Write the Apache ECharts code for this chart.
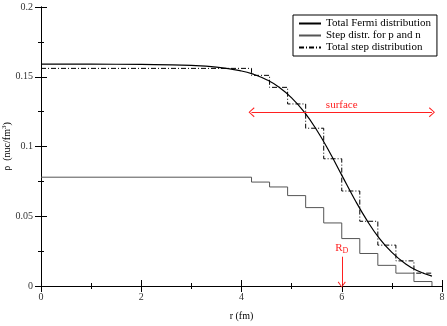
<!DOCTYPE html>
<html><head><meta charset="utf-8">
<script src="https://cdn.jsdelivr.net/npm/echarts@6/dist/echarts.min.js"></script>
<style>html,body{margin:0;padding:0;background:#fff}#c{width:447px;height:326px}</style>
</head><body><div id="c"></div>
<script>
// Fermi distribution
const fermiR   = [0, 1, 2, 3, 3.5, 4, 4.25, 4.5, 4.75, 5, 5.25, 5.5, 5.75, 6, 6.25, 6.5, 6.75, 7, 7.25, 7.5, 7.8];
const fermiRho = [0.159, 0.159, 0.1588, 0.1581, 0.1569, 0.1541, 0.1516, 0.1479, 0.1425, 0.1349, 0.1248, 0.1118, 0.0964, 0.0795, 0.0626, 0.0472, 0.0342, 0.0241, 0.0165, 0.0111, 0.0071];
// step bins
const binEdges  = [0, 4.2, 4.56, 4.92, 5.28, 5.64, 6.0, 6.36, 6.72, 7.08, 7.44, 7.8];
const totalStep = [0.156, 0.151, 0.1424, 0.1305, 0.1131, 0.0912, 0.0681, 0.0464, 0.0293, 0.018, 0.0092];
const pnStep    = [0.078, 0.0745, 0.071, 0.0648, 0.0562, 0.0452, 0.034, 0.0233, 0.0148, 0.0092, 0.0032];
const surfaceRange = [4.2, 7.8];
const surfaceRho = 0.1245;
const rD = 6.0;
const rDArrow = [0.021, 0.001];

const serif = 'Liberation Serif';
const openArrow = 'path://M5,0 L10,9 L9,10 L5,2.2 L1,10 L0,9 Z';
const fermiData = fermiR.map((r, i) => [r, fermiRho[i]]);
function stepData(vals, endVal) {
  const d = vals.map((v, i) => [binEdges[i], v]);
  d.push([binEdges[binEdges.length - 1], endVal]);
  return d;
}

const chart = echarts.init(document.getElementById('c'), null, {renderer: 'canvas'});
const axisCommon = {
  min: 0,
  axisLine: {show: true, lineStyle: {color: '#000', width: 1}},
  axisTick: {show: true, inside: true, length: 6, lineStyle: {color: '#000'}},
  minorTick: {show: true, splitNumber: 2, length: 3, lineStyle: {color: '#000'}},
  splitLine: {show: false},
  minorSplitLine: {show: false}
};
const hiddenSym = {color: 'rgba(0,0,0,0)', borderColor: 'rgba(0,0,0,0)', borderWidth: 0};
chart.setOption({
  animation: false,
  backgroundColor: '#fff',
  grid: {left: 41, right: 5, top: 7, bottom: 40, containLabel: false, outerBoundsMode: 'none'},
  legend: {
    orient: 'vertical', left: 293, top: 15, align: 'left',
    backgroundColor: '#fff', borderColor: '#000', borderWidth: 1,
    padding: [3, 6, 3, 5], itemGap: 1, itemWidth: 22, itemHeight: 12,
    textStyle: {fontFamily: serif, fontSize: 11, color: '#000'},
    itemStyle: hiddenSym,
    data: ['Total Fermi distribution', 'Step distr. for p and n', 'Total step distribution']
  },
  xAxis: [
    Object.assign({}, axisCommon, {
      type: 'value', max: 8, interval: 2, position: 'bottom',
      name: 'r (fm)', nameLocation: 'middle', nameGap: 25, nameMoveOverlap: false,
      nameTextStyle: {fontFamily: serif, fontSize: 10, color: '#000'},
      axisLabel: {fontFamily: serif, fontSize: 10, color: '#333', margin: 6}
    }),
    Object.assign({}, axisCommon, {
      type: 'value', max: 8, interval: 2, position: 'top',
      axisLabel: {show: false}
    })
  ],
  yAxis: [
    Object.assign({}, axisCommon, {
      type: 'value', max: 0.2, interval: 0.05, position: 'left',
      name: 'ρ  (nuc/fm{s|3})', nameLocation: 'middle', nameGap: 27, nameRotate: 90, nameMoveOverlap: false,
      nameTextStyle: {fontFamily: serif, fontSize: 10, color: '#000',
        rich: {s: {fontFamily: serif, fontSize: 7, verticalAlign: 'top', padding: [0, 0, 6, 0]}}},
      axisLabel: {fontFamily: serif, fontSize: 10, color: '#333', margin: 8}
    }),
    Object.assign({}, axisCommon, {
      type: 'value', max: 0.2, interval: 0.05, position: 'right',
      axisLabel: {show: false}
    })
  ],
  series: [
    {
      name: 'Total Fermi distribution', type: 'line', data: fermiData, smooth: true,
      symbol: 'none', lineStyle: {color: '#000', width: 1.2}, itemStyle: {color: '#000'}, z: 4,
      markLine: {
        silent: true, symbol: [openArrow, openArrow], symbolSize: [10, 6],
        lineStyle: {color: '#ff2020', width: 1, type: 'solid'},
        itemStyle: {color: '#ff2020'},
        label: {show: true, formatter: 'surface', position: 'insideMiddleTop', color: '#ff2020',
          fontFamily: serif, fontSize: 11, distance: 2},
        data: [[{coord: [surfaceRange[0], surfaceRho]}, {coord: [surfaceRange[1], surfaceRho]}]]
      }
    },
    {
      name: 'Step distr. for p and n', type: 'line', data: stepData(pnStep, 0), step: 'end',
      symbol: 'none', lineStyle: {color: '#555', width: 1}, itemStyle: {color: '#555'}, z: 3,
      markLine: {
        silent: true, symbol: ['none', openArrow], symbolSize: [8, 6],
        lineStyle: {color: '#ff2020', width: 1, type: 'solid'},
        itemStyle: {color: '#ff2020'},
        label: {show: true, position: 'start', distance: 2, color: '#ff2020',
          formatter: '{a|R}{b|D}',
          rich: {a: {fontFamily: serif, fontSize: 11, color: '#ff2020'},
                 b: {fontFamily: serif, fontSize: 8, color: '#ff2020', verticalAlign: 'bottom', padding: [5, 0, 0, 0]}}},
        data: [[{coord: [rD, rDArrow[0]]}, {coord: [rD, rDArrow[1]]}]]
      }
    },
    {
      name: 'Total step distribution', type: 'line', data: stepData(totalStep, totalStep[totalStep.length - 1]), step: 'end',
      symbol: 'none', lineStyle: {color: '#000', width: 1, type: [5, 2, 1, 2]}, itemStyle: {color: '#000'}, z: 3
    }
  ]
});
</script></body></html>
